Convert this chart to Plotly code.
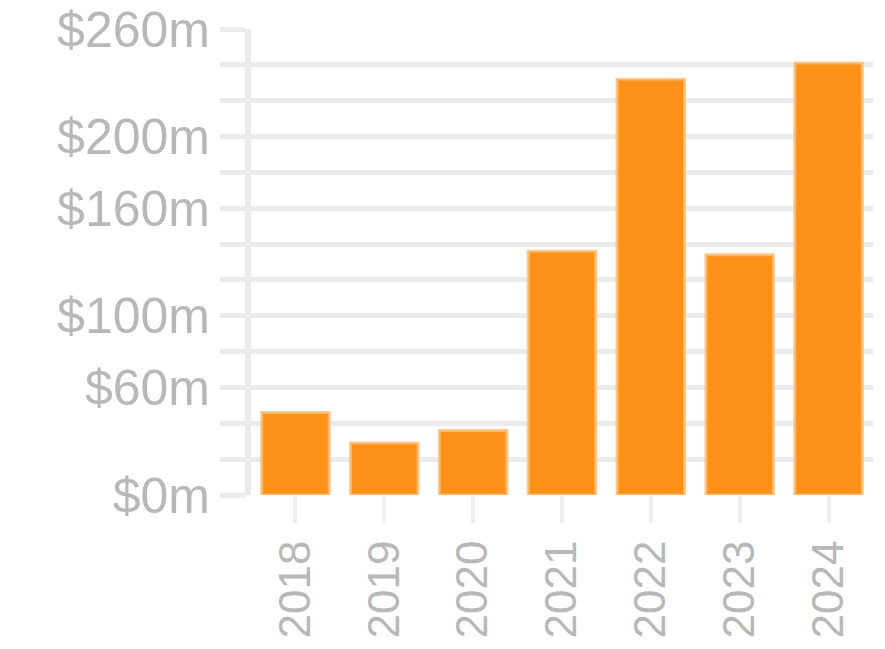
import plotly.graph_objects as go

years = ["2018", "2019", "2020", "2021", "2022", "2023", "2024"]
values = [46, 29, 36, 136, 232, 134, 241]  # $ millions
tick_vals = list(range(0, 261, 20))
labeled = {0: "$0m", 60: "$60m", 100: "$100m", 160: "$160m", 200: "$200m", 260: "$260m"}
tick_text = [labeled.get(v, "") for v in tick_vals]

grid = "#ebebeb"
txt = "#b8b8b8"

fig = go.Figure(go.Bar(
    x=years, y=values,
    marker=dict(color="rgb(254,146,24)", line=dict(color="rgba(254,190,120,0.8)", width=3)),
    width=0.76,
))
fig.update_layout(
    width=885, height=649,
    margin=dict(l=251, r=12, t=29, b=154),
    paper_bgcolor="white", plot_bgcolor="white",
    font=dict(family="Liberation Sans, Arial, sans-serif", color=txt),
    showlegend=False,
)
fig.update_yaxes(
    range=[0, 260], tickvals=tick_vals, ticktext=tick_text,
    showgrid=True, gridcolor=grid, gridwidth=5,
    ticks="outside", ticklen=25, tickwidth=5, tickcolor=grid,
    showline=True, linecolor=grid, linewidth=6,
    zeroline=False, tickfont=dict(size=50, color=txt), ticklabelstandoff=0,
    automargin=False,
)
fig.update_xaxes(
    type="category", range=[-0.5, 6.5],
    ticks="outside", ticklen=27, tickwidth=4, tickcolor="#efefef",
    showline=False, showgrid=False, tickangle=-90,
    tickfont=dict(size=44, color=txt), ticklabelstandoff=0,
    automargin=False,
)
fig.write_html("out.html", config={"displayModeBar": False},
               post_script="document.body.style.margin='0';")
